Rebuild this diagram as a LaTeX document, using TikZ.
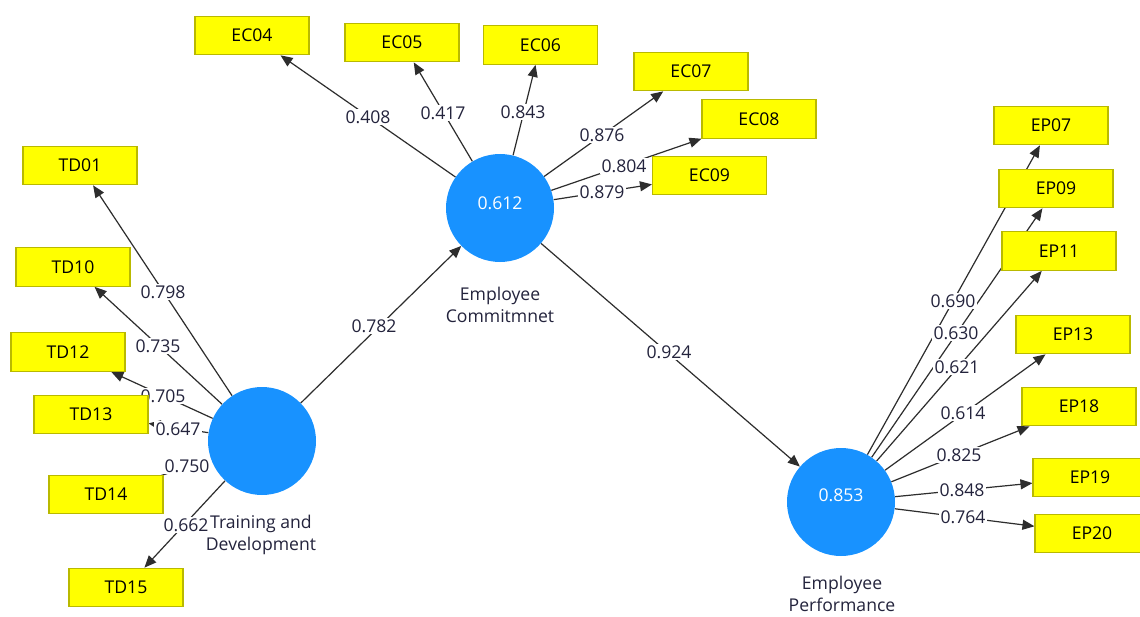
\documentclass[tikz,border=0pt]{standalone}
\usepackage{fontspec}
\setmainfont{Open Sans}
\usetikzlibrary{arrows.meta}
\pgfdeclarelayer{bg}
\pgfdeclarelayer{paper}
\pgfsetlayers{paper,bg,main}
\definecolor{lvblue}{RGB}{24,146,255}
\definecolor{indfill}{RGB}{255,255,0}
\definecolor{indline}{RGB}{185,185,0}
\definecolor{lbltext}{RGB}{35,35,60}
\definecolor{edgecol}{RGB}{45,45,45}
\begin{document}
\begin{tikzpicture}[x=0.75pt,y=-0.75pt,
  font=\fontsize{13.2}{15}\selectfont,
  indbox/.style={draw=indline, fill=indfill, line width=0.8pt, minimum width=85.5pt, minimum height=29pt, inner sep=0pt, text=black},
  latent/.style={circle, fill=lvblue, minimum size=81pt, inner sep=0pt},
  lvtext/.style={text=white, inner sep=0pt},
  conn/.style={draw=edgecol, line width=0.9pt, -{Triangle[length=9pt,width=7.5pt]}},
  wlbl/.style={fill=white, inner sep=1pt, text=lbltext},
  caption/.style={align=center, text=lbltext, inner sep=0pt, font=\fontsize{13.2}{17}\selectfont}]
\useasboundingbox (0,0) rectangle (1140,617);
\clip (0,0) rectangle (1140,617);
\begin{pgfonlayer}{paper}
\fill[white] (0,0) rectangle (1140,617);
\end{pgfonlayer}

% latent variables
\node[latent] (td) at (262,441) {};
\node[latent] (ec) at (500,208) {};
\node[latent] (ep) at (841,502) {};
\node[lvtext] (ectext) at (500,203) {0.612};
\node[lvtext] (eptext) at (841,495) {0.853};
\node[caption] (tdcap) at (261,535) {Training and\\Development};
\node[caption] (eccap) at (500,305) {Employee\\Commitmnet};
\node[caption] (epcap) at (842,594) {Employee\\Performance};

% TD indicators
\node[indbox] (td01) at (80,165.5) {TD01};
\node[indbox] (td10) at (73,267) {TD10};
\node[indbox] (td12) at (68,352) {TD12};
\node[indbox] (td13) at (91,414.5) {TD13};
\node[indbox] (td14) at (106,494.5) {TD14};
\node[indbox] (td15) at (126,587.5) {TD15};

% EC indicators
\node[indbox] (ec04) at (252,35.5) {EC04};
\node[indbox] (ec05) at (402,42.5) {EC05};
\node[indbox] (ec06) at (540.5,45) {EC06};
\node[indbox] (ec07) at (691,71.5) {EC07};
\node[indbox] (ec08) at (759,119) {EC08};
\node[indbox] (ec09) at (709.5,175.5) {EC09};

% EP indicators
\node[indbox] (ep07) at (1051,125.5) {EP07};
\node[indbox] (ep09) at (1056,188.5) {EP09};
\node[indbox] (ep11) at (1059,251) {EP11};
\node[indbox] (ep13) at (1073,334.5) {EP13};
\node[indbox] (ep18) at (1079,406.5) {EP18};
\node[indbox] (ep19) at (1090,477.5) {EP19};
\node[indbox] (ep20) at (1092,533.5) {EP20};

\begin{pgfonlayer}{bg}
% structural paths
\draw[conn] (td) -- (ec);
\draw[conn] (ec) -- (ep);
% outer loadings
\foreach \t in {td01,td10,td12,td13,td15} \draw[conn] (td) -- (\t);
\draw[conn] (td) -- (td14.center);
\foreach \t in {ec04,ec05,ec06,ec07,ec08,ec09} \draw[conn] (ec) -- (\t);
\foreach \t in {ep07,ep09,ep11,ep13,ep18,ep19,ep20} \draw[conn] (ep) -- (\t);
% labels
\node[wlbl] (l782) at (374,326) {0.782};
\node[wlbl] (l924) at (669,352) {0.924};
\node[wlbl] (l798) at (163,292) {0.798};
\node[wlbl] (l735) at (158,346) {0.735};
\node[wlbl] (l705) at (163,396) {0.705};
\node[wlbl] (l647) at (178,429) {0.647};
\node[wlbl] (l750) at (187,466) {0.750};
\node[wlbl] (l662) at (186,525) {0.662};
\node[wlbl] (l408) at (368,117) {0.408};
\node[wlbl] (l417) at (443,113) {0.417};
\node[wlbl] (l843) at (523,112) {0.843};
\node[wlbl] (l876) at (602,135) {0.876};
\node[wlbl] (l804) at (624,166) {0.804};
\node[wlbl] (l879) at (602,192) {0.879};
\node[wlbl] (l690) at (953,301) {0.690};
\node[wlbl] (l630) at (956,333) {0.630};
\node[wlbl] (l621) at (957,367) {0.621};
\node[wlbl] (l614) at (963,413) {0.614};
\node[wlbl] (l825) at (959,455) {0.825};
\node[wlbl] (l848) at (962,490) {0.848};
\node[wlbl] (l764) at (963,517) {0.764};
\end{pgfonlayer}
\end{tikzpicture}
\end{document}
